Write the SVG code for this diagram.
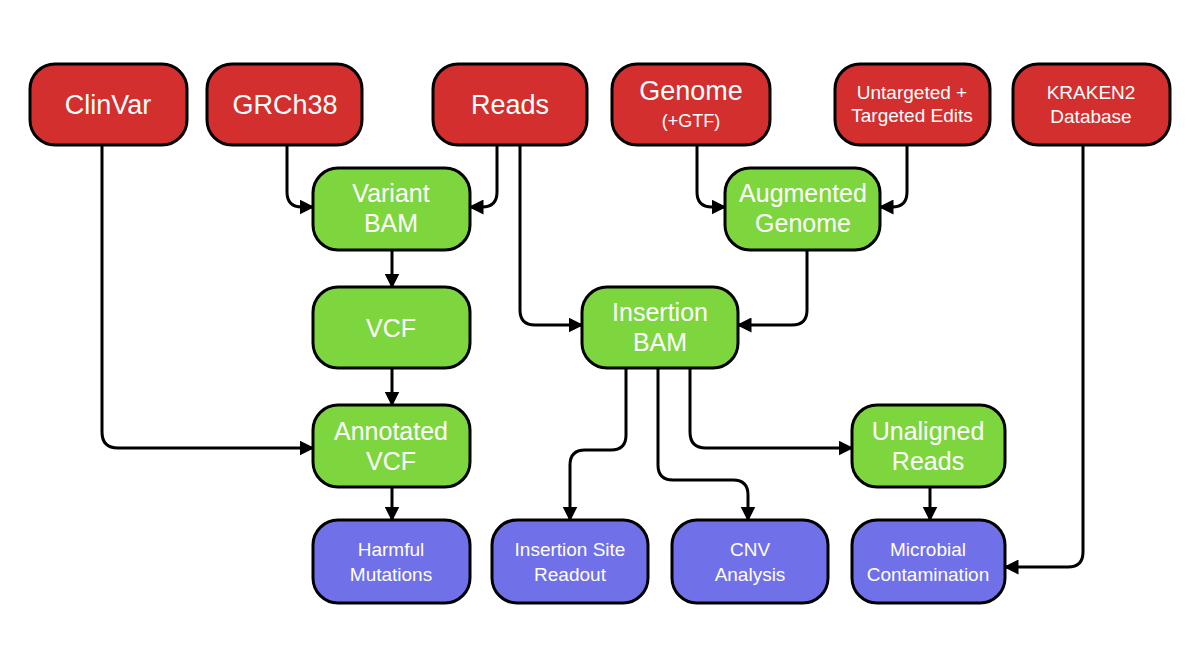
<svg xmlns="http://www.w3.org/2000/svg" width="1200" height="670" viewBox="0 0 1200 670">
<defs>
<marker id="a" viewBox="0 0 10 10" refX="9" refY="5" markerWidth="5" markerHeight="5" orient="auto"><path d="M0,0 L10,5 L0,10 z" fill="#000"/></marker>
<style>
.n{stroke:#000;stroke-width:3}
.r{fill:#d32f2f}.g{fill:#7ed63f}.b{fill:#7070e8}
text{font-family:"Liberation Sans",Arial,sans-serif;fill:#fff;text-anchor:middle}
.c path{fill:none;stroke:#000;stroke-width:3;marker-end:url(#a)}
</style>
</defs>
<rect width="1200" height="670" fill="#fff"/>
<g class="c">
<path d="M287,145 V192 Q287,207 302,207 H313"/>
<path d="M497,145 V192 Q497,207 482,207 H470"/>
<path d="M520,145 V310 Q520,325 535,325 H582"/>
<path d="M392,250 V287"/>
<path d="M392,368 V405"/>
<path d="M102,145 V432 Q102,448 118,448 H313"/>
<path d="M392,487 V520"/>
<path d="M697,145 V192 Q697,207 712,207 H725"/>
<path d="M907,145 V192 Q907,207 892,207 H880"/>
<path d="M807,250 V310 Q807,325 792,325 H738"/>
<path d="M626,368 V435 Q626,450 611,450 H585 Q570,450 570,465 V520"/>
<path d="M658,368 V465 Q658,480 673,480 H733 Q748,480 748,495 V520"/>
<path d="M690,368 V432 Q690,448 706,448 H852"/>
<path d="M930,487 V520"/>
<path d="M1083,145 V552 Q1083,567 1068,567 H1005"/>
</g>
<g id="clinvar"><rect class="n r" x="30" y="64" width="157" height="81" rx="25"/><text x="108" y="114" font-size="27">ClinVar</text></g>
<g id="grch38"><rect class="n r" x="207" y="64" width="155" height="81" rx="25"/><text x="285" y="114" font-size="27">GRCh38</text></g>
<g id="reads"><rect class="n r" x="433" y="64" width="154" height="81" rx="25"/><text x="510" y="114" font-size="27">Reads</text></g>
<g id="genome"><rect class="n r" x="612" y="64" width="158" height="81" rx="25"/><text x="691" y="100" font-size="27">Genome</text><text x="691" y="127" font-size="18">(+GTF)</text></g>
<g id="edits"><rect class="n r" x="835" y="64" width="155" height="81" rx="25"/><text x="912" y="99" font-size="19">Untargeted +</text><text x="912" y="122" font-size="19">Targeted Edits</text></g>
<g id="kraken"><rect class="n r" x="1013" y="64" width="157" height="81" rx="25"/><text x="1091" y="99" font-size="19">KRAKEN2</text><text x="1091" y="123" font-size="19">Database</text></g>
<g id="vbam"><rect class="n g" x="313" y="168" width="157" height="82" rx="25"/><text x="391" y="202" font-size="25">Variant</text><text x="391" y="232" font-size="25">BAM</text></g>
<g id="vcf"><rect class="n g" x="313" y="287" width="157" height="81" rx="25"/><text x="391" y="337" font-size="25">VCF</text></g>
<g id="avcf"><rect class="n g" x="313" y="405" width="157" height="82" rx="25"/><text x="391" y="440" font-size="25">Annotated</text><text x="391" y="470" font-size="25">VCF</text></g>
<g id="aug"><rect class="n g" x="725" y="168" width="155" height="82" rx="25"/><text x="803" y="202" font-size="25">Augmented</text><text x="803" y="232" font-size="25">Genome</text></g>
<g id="ibam"><rect class="n g" x="582" y="287" width="156" height="81" rx="25"/><text x="660" y="321" font-size="25">Insertion</text><text x="660" y="351" font-size="25">BAM</text></g>
<g id="unal"><rect class="n g" x="852" y="405" width="153" height="82" rx="25"/><text x="928" y="440" font-size="25">Unaligned</text><text x="928" y="470" font-size="25">Reads</text></g>
<g id="harm"><rect class="n b" x="313" y="520" width="157" height="83" rx="25"/><text x="391" y="556" font-size="19">Harmful</text><text x="391" y="581" font-size="19">Mutations</text></g>
<g id="isr"><rect class="n b" x="492" y="520" width="156" height="83" rx="25"/><text x="570" y="556" font-size="19">Insertion Site</text><text x="570" y="581" font-size="19">Readout</text></g>
<g id="cnv"><rect class="n b" x="672" y="520" width="156" height="83" rx="25"/><text x="750" y="556" font-size="19">CNV</text><text x="750" y="581" font-size="19">Analysis</text></g>
<g id="micro"><rect class="n b" x="852" y="520" width="153" height="83" rx="25"/><text x="928" y="556" font-size="19">Microbial</text><text x="928" y="581" font-size="19">Contamination</text></g>
</svg>
